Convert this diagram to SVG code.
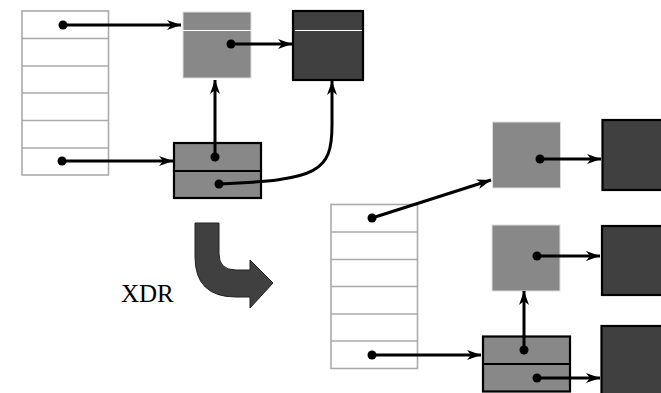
<svg xmlns="http://www.w3.org/2000/svg" width="661" height="393" viewBox="0 0 661 393">
<style>
.tbl{fill:#fff;stroke:#aaa;stroke-width:1.6}
.sep{stroke:#aaa;stroke-width:1.6}
.lt{fill:#888;stroke:#ddd;stroke-width:1}
.md{fill:#888;stroke:#000;stroke-width:2.2}
.dk{fill:#404040;stroke:#000;stroke-width:2.2}
.wl{stroke:#fff;stroke-width:1.2}
.ln{fill:none;stroke:#000;stroke-width:3;marker-end:url(#ah)}
.dot{fill:#000}
</style>
<defs>
<marker id="ah" markerUnits="userSpaceOnUse" markerWidth="16" markerHeight="12" refX="15" refY="5" orient="auto" viewBox="0 0 16 10">
<path d="M15,5 L1,0 L5,5 L1,10 Z" fill="#000"/>
</marker>
</defs>
<g id="table1">
<rect class="tbl" x="22" y="11" width="86.5" height="164"/>
<path class="sep" d="M22,38.5H108.5M22,66H108.5M22,93H108.5M22,120.5H108.5M22,148H108.5"/>
</g>
<g id="boxA">
<rect class="lt" x="183" y="12" width="68" height="66"/>
<line class="wl" x1="183" y1="30.5" x2="251" y2="30.5"/>
</g>
<g id="boxB">
<rect class="dk" x="293" y="11" width="70" height="69"/>
<line class="wl" x1="295" y1="30.5" x2="362" y2="30.5"/>
</g>
<g id="boxC">
<rect class="md" x="174" y="143" width="87" height="55"/>
<line x1="174" y1="171" x2="261" y2="171" stroke="#000" stroke-width="2"/>
</g>
<g id="xdr">
<path d="M195,223 L219,223 L219,254 Q219,270 236,270 L250,270 L250,260 L273,283 L250,308 L250,297 L236,297 Q195,297 195,257 Z" fill="#404040" stroke="#222" stroke-width="1"/>
<text x="121" y="301.5" font-family="'Liberation Serif',serif" font-size="25" fill="#000">XDR</text>
</g>
<g id="table2">
<rect class="tbl" x="331" y="204.5" width="86.5" height="164"/>
<path class="sep" d="M331,232H417.5M331,259.5H417.5M331,286.5H417.5M331,314H417.5M331,341H417.5"/>
</g>
<g id="boxD"><rect class="lt" x="492.5" y="122" width="68" height="66"/></g>
<g id="boxE"><rect class="lt" x="492" y="225" width="68" height="66"/></g>
<g id="boxF">
<rect class="md" x="483" y="336.5" width="87" height="55"/>
<line x1="483" y1="364" x2="570" y2="364" stroke="#000" stroke-width="2"/>
</g>
<g id="boxG"><rect class="dk" x="602.5" y="120" width="70" height="70"/></g>
<g id="boxH"><rect class="dk" x="602" y="226" width="70" height="69"/></g>
<g id="boxI"><rect class="dk" x="601.5" y="326" width="70" height="80"/></g>
<g id="connectors">
<line class="ln" x1="63" y1="25" x2="181" y2="25"/>
<line class="ln" x1="231" y1="44" x2="292" y2="44"/>
<line class="ln" x1="62" y1="161" x2="173" y2="161"/>
<line class="ln" x1="215" y1="157" x2="215" y2="80"/>
<path class="ln" d="M219,184 C318,180 332,172 332,125 L332,81"/>
<line class="ln" x1="372" y1="218" x2="491" y2="180"/>
<line class="ln" x1="540" y1="159" x2="601" y2="159"/>
<line class="ln" x1="537" y1="256" x2="600" y2="256"/>
<line class="ln" x1="524" y1="350" x2="524" y2="291"/>
<line class="ln" x1="537" y1="378" x2="600" y2="378"/>
<line class="ln" x1="372" y1="355" x2="481" y2="355"/>
<circle class="dot" cx="63" cy="25" r="4.5"/>
<circle class="dot" cx="231" cy="44" r="4.5"/>
<circle class="dot" cx="62" cy="161" r="4.5"/>
<circle class="dot" cx="215" cy="157" r="4.5"/>
<circle class="dot" cx="219" cy="184" r="4.5"/>
<circle class="dot" cx="372" cy="218" r="4.5"/>
<circle class="dot" cx="540" cy="159" r="4.5"/>
<circle class="dot" cx="537" cy="256" r="4.5"/>
<circle class="dot" cx="524" cy="350" r="4.5"/>
<circle class="dot" cx="537" cy="378" r="4.5"/>
<circle class="dot" cx="372" cy="355" r="4.5"/>
</g>
</svg>
